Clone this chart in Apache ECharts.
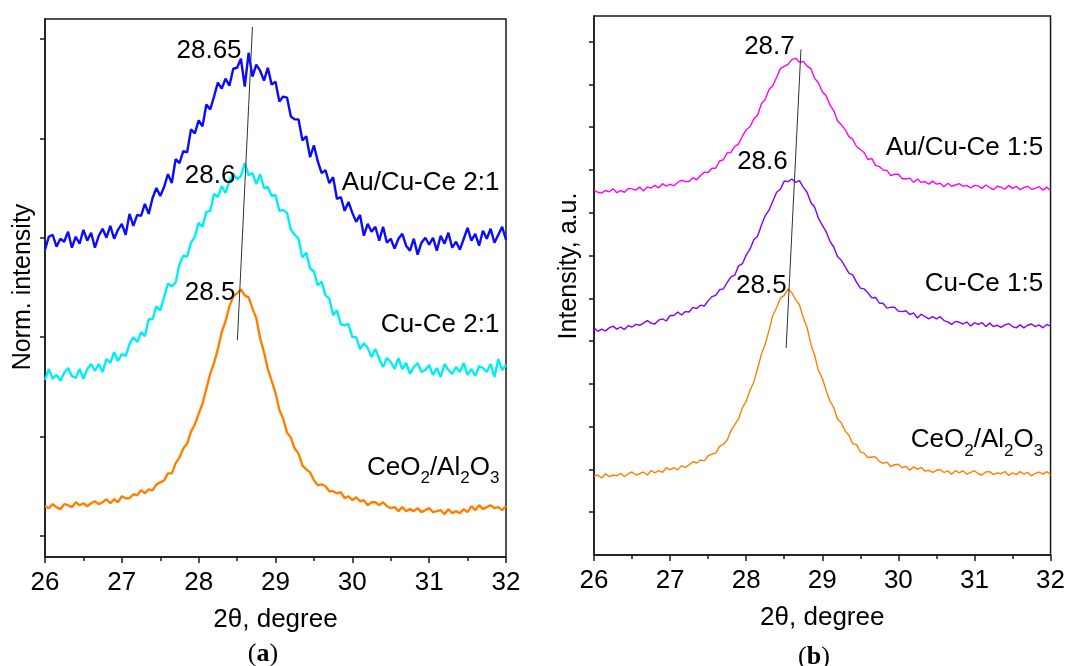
<!DOCTYPE html>
<html>
<head>
<meta charset="utf-8">
<script src="https://cdn.jsdelivr.net/npm/echarts@6/dist/echarts.min.js"></script>
<style>html,body{margin:0;padding:0;background:#fff;}#chart{width:1068px;height:666px;}</style>
</head>
<body>
<div id="chart"></div>
<script>
// 2-theta grid (degree)
const xs = [26,26.05,26.1,26.15,26.2,26.25,26.3,26.35,26.4,26.45,
26.5,26.55,26.6,26.65,26.7,26.75,26.8,26.85,26.9,26.95,
27,27.05,27.1,27.15,27.2,27.25,27.3,27.35,27.4,27.45,
27.5,27.55,27.6,27.65,27.7,27.75,27.8,27.85,27.9,27.95,
28,28.05,28.1,28.15,28.2,28.25,28.3,28.35,28.4,28.45,
28.5,28.55,28.6,28.65,28.7,28.75,28.8,28.85,28.9,28.95,
29,29.05,29.1,29.15,29.2,29.25,29.3,29.35,29.4,29.45,
29.5,29.55,29.6,29.65,29.7,29.75,29.8,29.85,29.9,29.95,
30,30.05,30.1,30.15,30.2,30.25,30.3,30.35,30.4,30.45,
30.5,30.55,30.6,30.65,30.7,30.75,30.8,30.85,30.9,30.95,
31,31.05,31.1,31.15,31.2,31.25,31.3,31.35,31.4,31.45,
31.5,31.55,31.6,31.65,31.7,31.75,31.8,31.85,31.9,31.95,32];

// Panel (a) – Norm. intensity (offset units)
const aCeO2 = [.30,.28,.32,.29,.27,.32,.31,.29,.34,.31,
 .33,.30,.33,.35,.32,.34,.37,.33,.37,.34,
 .40,.38,.38,.42,.41,.46,.43,.47,.46,.52,
 .54,.56,.63,.63,.73,.79,.88,.93,1.05,1.12,
 1.23,1.33,1.48,1.63,1.74,1.88,2.05,2.16,2.31,2.41,
 2.44,2.48,2.42,2.40,2.29,2.19,1.99,1.85,1.68,1.56,
 1.44,1.27,1.18,1.04,.99,.88,.83,.71,.67,.64,
 .56,.51,.52,.50,.45,.45,.43,.44,.38,.40,
 .36,.39,.35,.36,.31,.34,.34,.31,.34,.30,
 .28,.29,.25,.29,.25,.27,.25,.28,.24,.26,
 .28,.24,.25,.26,.22,.27,.23,.25,.23,.27,
 .24,.30,.26,.31,.27,.29,.31,.28,.29,.26,.30];
const aCuCe = [1.57,1.68,1.58,1.62,1.56,1.64,1.69,1.61,1.59,1.68,
 1.58,1.68,1.73,1.66,1.73,1.65,1.78,1.74,1.85,1.76,
 1.83,1.81,1.93,2.00,1.95,2.05,2.01,2.18,2.18,2.31,
 2.27,2.40,2.54,2.51,2.55,2.73,2.82,2.81,2.95,3.01,
 3.15,3.11,3.26,3.27,3.44,3.41,3.52,3.45,3.57,3.64,
 3.59,3.62,3.75,3.63,3.65,3.54,3.64,3.50,3.51,3.42,
 3.43,3.27,3.28,3.25,3.08,3.03,2.99,2.80,2.85,2.69,
 2.66,2.52,2.56,2.42,2.39,2.22,2.27,2.13,2.12,2.13,
 2.00,2.00,1.88,1.94,1.89,1.80,1.88,1.78,1.70,1.79,
 1.75,1.68,1.79,1.68,1.74,1.63,1.70,1.74,1.65,1.67,
 1.72,1.62,1.69,1.60,1.73,1.67,1.63,1.70,1.65,1.74,
 1.62,1.68,1.61,1.71,1.69,1.65,1.73,1.60,1.78,1.67,1.72];
const aAuCuCe = [2.88,3.01,3.03,2.91,2.99,2.96,3.06,2.90,3.01,2.94,
 3.08,2.97,3.05,2.90,3.02,3.09,3.00,3.12,2.99,3.08,
 3.14,3.03,3.24,3.12,3.23,3.22,3.34,3.24,3.40,3.50,
 3.42,3.51,3.64,3.55,3.79,3.75,3.87,3.86,4.09,4.05,
 4.18,4.12,4.34,4.29,4.42,4.56,4.50,4.60,4.53,4.70,
 4.71,4.80,4.52,4.86,4.62,4.74,4.68,4.58,4.71,4.54,
 4.57,4.37,4.42,4.41,4.22,4.19,4.19,3.98,4.02,3.81,
 3.93,3.77,3.65,3.68,3.55,3.61,3.39,3.41,3.27,3.36,
 3.25,3.16,3.23,3.02,3.14,3.06,3.11,2.97,3.11,2.95,
 2.99,2.89,2.99,3.04,2.92,2.87,2.99,2.83,2.95,3.00,
 2.93,3.00,2.87,3.02,2.94,3.05,2.90,2.96,2.88,2.99,
 3.10,2.97,3.04,2.92,3.07,2.99,3.09,2.95,3.03,3.11,2.98];

// Panel (b) – Intensity, a.u. (offset units)
const bCeO2 = [1.84,1.87,1.80,1.90,1.83,1.87,1.85,1.91,1.83,1.90,
 1.94,1.87,1.90,1.94,1.87,1.97,1.92,1.97,1.93,2.04,
 1.99,2.04,1.99,2.09,2.05,2.11,2.18,2.15,2.22,2.20,
 2.32,2.36,2.38,2.54,2.59,2.68,2.91,3.05,3.18,3.44,
 3.59,3.85,4.04,4.36,4.69,4.93,5.25,5.60,5.78,6.01,
 6.07,6.22,6.13,5.97,5.85,5.55,5.32,4.93,4.67,4.31,
 4.13,3.85,3.60,3.45,3.18,3.09,2.90,2.80,2.60,2.58,
 2.41,2.38,2.28,2.29,2.29,2.19,2.14,2.17,2.07,2.11,
 2.12,2.04,2.07,1.98,2.06,2.00,2.05,1.96,1.98,1.93,
 1.98,2.00,1.93,1.96,1.89,1.97,1.92,1.97,1.89,1.93,
 1.97,1.90,1.87,1.94,1.95,1.88,1.92,1.90,1.95,1.86,
 1.92,1.88,1.95,1.89,1.93,1.85,1.91,1.94,1.89,1.95,1.87];
const bCuCe = [5.31,5.23,5.28,5.24,5.31,5.35,5.28,5.33,5.27,5.36,
 5.33,5.39,5.37,5.42,5.48,5.42,5.40,5.49,5.52,5.47,
 5.60,5.60,5.68,5.61,5.69,5.68,5.79,5.76,5.84,5.82,
 5.94,6.04,6.07,6.20,6.22,6.37,6.50,6.54,6.76,6.81,
 7.01,7.15,7.37,7.45,7.71,7.93,8.06,8.27,8.48,8.55,
 8.74,8.73,8.79,8.71,8.75,8.60,8.48,8.24,8.13,7.87,
 7.71,7.56,7.34,7.20,6.98,6.89,6.74,6.59,6.55,6.38,
 6.24,6.22,6.13,6.01,6.02,5.89,5.88,5.77,5.79,5.79,
 5.70,5.69,5.71,5.62,5.66,5.54,5.63,5.57,5.52,5.57,
 5.52,5.57,5.48,5.45,5.39,5.46,5.44,5.40,5.45,5.35,
 5.43,5.39,5.43,5.34,5.42,5.34,5.37,5.32,5.38,5.41,
 5.34,5.31,5.38,5.31,5.37,5.40,5.34,5.38,5.31,5.39,5.35];
const bAuCuCe = [8.53,8.48,8.46,8.52,8.49,8.56,8.47,8.52,8.48,8.57,
 8.56,8.53,8.60,8.51,8.60,8.58,8.64,8.58,8.68,8.62,
 8.67,8.63,8.71,8.76,8.73,8.73,8.82,8.77,8.87,8.95,
 8.94,9.04,9.04,9.21,9.24,9.40,9.41,9.55,9.61,9.79,
 9.94,10.01,10.19,10.28,10.55,10.65,10.88,10.97,11.17,11.37,
 11.42,11.47,11.58,11.61,11.52,11.54,11.43,11.37,11.14,11.04,
 10.83,10.74,10.52,10.39,10.15,10.06,9.95,9.78,9.72,9.55,
 9.48,9.41,9.24,9.27,9.11,9.08,9.00,8.99,8.87,8.90,
 8.90,8.80,8.79,8.81,8.71,8.79,8.71,8.73,8.67,8.74,
 8.67,8.69,8.61,8.69,8.62,8.65,8.68,8.62,8.64,8.58,
 8.64,8.63,8.57,8.65,8.59,8.54,8.62,8.60,8.55,8.64,
 8.57,8.62,8.54,8.59,8.62,8.55,8.57,8.61,8.53,8.60,8.52];

// Peak-shift guide lines [2θ], [intensity]
const aGuideX = [28.504, 28.70];
const aGuideY = [1.97, 5.12];
const bGuideX = [28.525, 28.72];
const bGuideY = [4.84, 11.82];

// Peak position labels and sample names
const aPeakLabels = ['28.5', '28.6', '28.65'];
const bPeakLabels = ['28.5', '28.6', '28.7'];
const aNames = ['CeO2/Al2O3', 'Cu-Ce 2:1', 'Au/Cu-Ce 2:1'];
const bNames = ['CeO2/Al2O3', 'Cu-Ce 1:5', 'Au/Cu-Ce 1:5'];
const xTickValues = [26, 27, 28, 29, 30, 31, 32];
const aYTicks = [0, 1, 2, 3, 4, 5];
const bYTicks = [1, 2, 3, 4, 5, 6, 7, 8, 9, 10, 11, 12];

const FONT = '"Liberation Sans", Arial, sans-serif';
const INK = '#1a1a1a';
const pair = ys => xs.map((x, i) => [x, ys[i]]);

function xAxisCfg(g) {
  return {
    gridIndex: g, type: 'value', min: xTickValues[0], max: xTickValues[xTickValues.length - 1], interval: 1,
    name: '2θ, degree', nameLocation: 'middle', nameGap: 50,
    nameTextStyle: { fontSize: 26, color: '#000', fontFamily: FONT },
    axisLine: { show: true, onZero: false, lineStyle: { color: INK, width: 1.5 } },
    axisTick: { show: true, inside: false, length: 6, lineStyle: { color: INK, width: 1.5 } },
    minorTick: { show: true, splitNumber: 2, length: 4, lineStyle: { color: INK, width: 1.5 } },
    axisLabel: { fontSize: 26, color: '#000', margin: 13, fontFamily: FONT },
    splitLine: { show: false }, minorSplitLine: { show: false }
  };
}
function yAxisCfg(g, min, max, ticks) {
  return {
    gridIndex: g, type: 'value', min: min, max: max,
    axisLine: { show: true, onZero: false, lineStyle: { color: INK, width: 1.5 } },
    axisTick: { show: true, inside: false, length: 5, customValues: ticks, lineStyle: { color: INK, width: 1.5 } },
    axisLabel: { show: false },
    splitLine: { show: false }
  };
}
function curve(g, ys, color, w) {
  return {
    type: 'line', xAxisIndex: g, yAxisIndex: g, data: pair(ys),
    showSymbol: false, symbol: 'none', silent: true,
    lineStyle: { color: color, width: w }, z: 2
  };
}
function guide(g, gx, gy) {
  return {
    type: 'line', xAxisIndex: g, yAxisIndex: g, data: gx.map((x, i) => [x, gy[i]]),
    showSymbol: false, symbol: 'none', silent: true,
    lineStyle: { color: '#333', width: 1 }, z: 4
  };
}
function nameText(s) {
  if (s.indexOf('CeO2') === 0) return '{a|CeO}{s|2}{a|/Al}{s|2}{a|O}{s|3}';
  return s;
}
const rich = {
  a: { fontSize: 26, lineHeight: 26, color: '#000', fontFamily: FONT, verticalAlign: 'top' },
  s: { fontSize: 17, lineHeight: 48, color: '#000', fontFamily: FONT, verticalAlign: 'middle' }
};
function annot(g, items) {
  return {
    type: 'scatter', xAxisIndex: g, yAxisIndex: g, silent: true, symbolSize: 1,
    itemStyle: { color: 'rgba(0,0,0,0)' }, z: 5,
    data: items.map(it => ({
      value: it.at, name: it.text,
      label: {
        show: true, position: it.pos, distance: 0, opacity: 1,
        formatter: it.sub ? nameText(it.text) : it.text,
        fontSize: 26, color: '#000', fontFamily: FONT, textBorderWidth: 0,
        rich: it.sub ? rich : undefined
      }
    }))
  };
}

const chart = echarts.init(document.getElementById('chart'), null, { renderer: 'canvas' });
chart.setOption({
  animation: false,
  backgroundColor: '#fff',
  grid: [
    { left: 45, top: 19, width: 461, height: 538, show: true, borderColor: INK, borderWidth: 1.5, backgroundColor: 'transparent' },
    { left: 594, top: 16, width: 458, height: 539, show: true, borderColor: INK, borderWidth: 1.5, backgroundColor: 'transparent' }
  ],
  xAxis: [xAxisCfg(0), xAxisCfg(1)],
  yAxis: [yAxisCfg(0, -0.211, 5.2, aYTicks), yAxisCfg(1, 0, 12.6, bYTicks)],
  graphic: [
    { type: 'text', x: 23, y: 287, rotation: Math.PI / 2,
      style: { text: 'Norm. intensity', fontSize: 25, fontFamily: FONT, fill: '#000', align: 'center', verticalAlign: 'middle', textAlign: 'center', textVerticalAlign: 'middle' } },
    { type: 'text', x: 569, y: 266, rotation: Math.PI / 2,
      style: { text: 'Intensity, a.u.', fontSize: 25, fontFamily: FONT, fill: '#000', align: 'center', verticalAlign: 'middle', textAlign: 'center', textVerticalAlign: 'middle' } },
    { type: 'text', x: 263, y: 654,
      style: { text: '{p|(}{b|a}{p|)}', align: 'center', verticalAlign: 'middle', textAlign: 'center', textVerticalAlign: 'middle',
        rich: { p: { fontSize: 26, fontFamily: '"Liberation Serif", serif', fill: '#000', color: '#000' }, b: { fontSize: 26, fontWeight: 'bold', fontFamily: '"Liberation Serif", serif', fill: '#000', color: '#000' } } } },
    { type: 'text', x: 814, y: 657,
      style: { text: '{p|(}{b|b}{p|)}', align: 'center', verticalAlign: 'middle', textAlign: 'center', textVerticalAlign: 'middle',
        rich: { p: { fontSize: 26, fontFamily: '"Liberation Serif", serif', fill: '#000', color: '#000' }, b: { fontSize: 26, fontWeight: 'bold', fontFamily: '"Liberation Serif", serif', fill: '#000', color: '#000' } } } }
  ],
  series: [
    curve(0, aCeO2, '#ff8000', 2.4),
    curve(0, aCuCe, '#00eef5', 2.4),
    curve(0, aAuCuCe, '#0a0aff', 2.4),
    curve(1, bCeO2, '#ff8000', 1.4),
    curve(1, bCuCe, '#8000ff', 1.4),
    curve(1, bAuCuCe, '#ff00ff', 1.4),
    guide(0, aGuideX, aGuideY),
    guide(1, bGuideX, bGuideY),
    annot(0, [
      { at: [28.148, 2.45], text: aPeakLabels[0], pos: 'inside' },
      { at: [28.148, 3.62], text: aPeakLabels[1], pos: 'inside' },
      { at: [28.135, 4.88], text: aPeakLabels[2], pos: 'inside' },
      { at: [31.92, 0.58], text: aNames[0], pos: 'left', sub: true },
      { at: [31.92, 2.12], text: aNames[1], pos: 'left' },
      { at: [31.92, 3.55], text: aNames[2], pos: 'left' }
    ]),
    annot(1, [
      { at: [28.20, 6.29], text: bPeakLabels[0], pos: 'inside' },
      { at: [28.214, 9.18], text: bPeakLabels[1], pos: 'inside' },
      { at: [28.306, 11.89], text: bPeakLabels[2], pos: 'inside' },
      { at: [31.91, 2.43], text: bNames[0], pos: 'left', sub: true },
      { at: [31.91, 6.33], text: bNames[1], pos: 'left' },
      { at: [31.91, 9.51], text: bNames[2], pos: 'left' }
    ])
  ]
});
</script>
</body>
</html>
